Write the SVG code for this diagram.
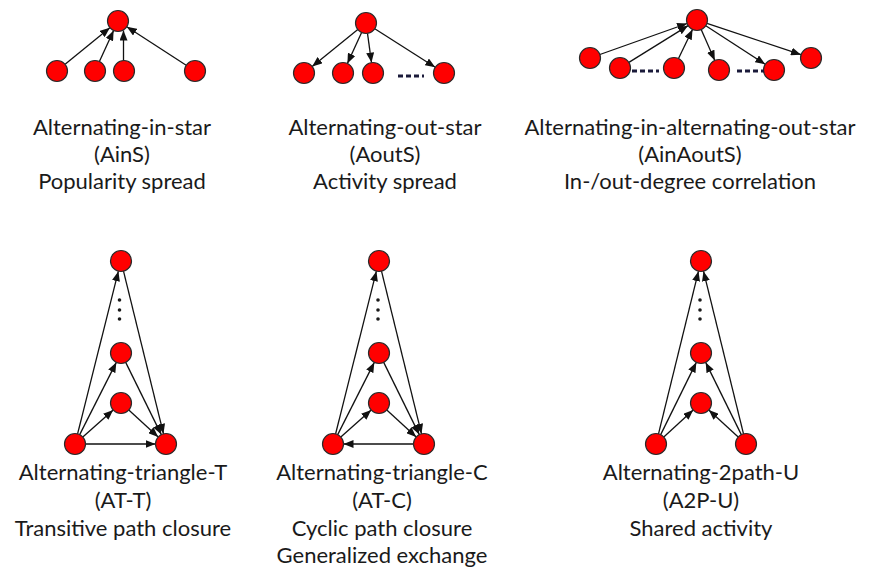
<svg xmlns="http://www.w3.org/2000/svg" width="872" height="575" viewBox="0 0 872 575">
<defs>
<marker id="arr" markerUnits="userSpaceOnUse" markerWidth="11" markerHeight="8" refX="10" refY="4" orient="auto">
<path d="M0,0 L10,4 L0,8 z" fill="#111"/>
</marker>
<style>
.n{fill:#ff0000;stroke:#2a2a2a;stroke-width:1.2}
.e{stroke:#111;stroke-width:1.3;fill:none;marker-end:url(#arr)}
.dash{stroke:#1a1a3a;stroke-width:3;stroke-dasharray:5 3;fill:none}
.dot{fill:#1a1a1a}
text{font-family:Lato,"Liberation Sans",sans-serif;font-size:22px;fill:#1a1a1a;text-anchor:middle}
</style>
</defs>
<rect width="872" height="575" fill="#fff"/>
<g id="connectors">
<line class="e" x1="65.1" y1="64.3" x2="109.9" y2="27.7"/>
<line class="e" x1="99.4" y1="61.5" x2="113.6" y2="30.5"/>
<line class="e" x1="123.5" y1="60.5" x2="123.5" y2="30.5"/>
<line class="e" x1="186.2" y1="65.3" x2="126.8" y2="26.7"/>
<line class="e" x1="357.8" y1="29.6" x2="312.2" y2="66.4"/>
<line class="e" x1="361.6" y1="32.5" x2="347.4" y2="63.5"/>
<line class="e" x1="367.5" y1="33.4" x2="371.5" y2="62.6"/>
<line class="e" x1="374.8" y1="28.7" x2="435.2" y2="67.3"/>
<line class="e" x1="599.9" y1="54.5" x2="687.1" y2="23.5"/>
<line class="e" x1="628.9" y1="62.4" x2="688.1" y2="25.6"/>
<line class="e" x1="678.5" y1="58.5" x2="692.5" y2="29.5"/>
<line class="e" x1="701.2" y1="29.6" x2="714.8" y2="60.4"/>
<line class="e" x1="705.8" y1="25.7" x2="765.2" y2="64.3"/>
<line class="e" x1="707.0" y1="23.3" x2="801.0" y2="54.7"/>
<line class="e" x1="77.6" y1="433.8" x2="118.4" y2="271.2"/>
<line class="e" x1="79.7" y1="434.6" x2="116.3" y2="362.4"/>
<line class="e" x1="82.8" y1="437.0" x2="113.2" y2="410.0"/>
<line class="e" x1="85.5" y1="444" x2="155.5" y2="444"/>
<line class="e" x1="123.5" y1="271.2" x2="163.5" y2="433.8"/>
<line class="e" x1="125.7" y1="362.4" x2="161.3" y2="434.6"/>
<line class="e" x1="128.8" y1="410.1" x2="158.2" y2="436.9"/>
<line class="e" x1="335.6" y1="433.8" x2="376.4" y2="271.2"/>
<line class="e" x1="337.7" y1="434.6" x2="374.3" y2="362.4"/>
<line class="e" x1="340.8" y1="437.0" x2="371.2" y2="410.0"/>
<line class="e" x1="413.5" y1="444" x2="343.5" y2="444"/>
<line class="e" x1="381.5" y1="271.2" x2="421.5" y2="433.8"/>
<line class="e" x1="383.7" y1="362.4" x2="419.3" y2="434.6"/>
<line class="e" x1="386.8" y1="410.1" x2="416.2" y2="436.9"/>
<line class="e" x1="658.5" y1="433.8" x2="698.5" y2="271.2"/>
<line class="e" x1="660.7" y1="434.6" x2="696.3" y2="362.4"/>
<line class="e" x1="663.8" y1="436.9" x2="693.2" y2="410.1"/>
<line class="e" x1="743.5" y1="433.8" x2="703.5" y2="271.2"/>
<line class="e" x1="741.3" y1="434.6" x2="705.7" y2="362.4"/>
<line class="e" x1="738.2" y1="436.9" x2="708.8" y2="410.1"/>
</g>
<g id="ains">
<circle class="n" cx="118" cy="21" r="10.5"/>
<circle class="n" cx="57" cy="71" r="10.5"/>
<circle class="n" cx="95" cy="71" r="10.5"/>
<circle class="n" cx="124" cy="71" r="10.5"/>
<circle class="n" cx="195" cy="71" r="10.5"/>
<text x="122" y="135">Alternating-in-star</text>
<text x="122" y="162">(AinS)</text>
<text x="122" y="189">Popularity spread</text>
</g>
<g id="aouts">
<circle class="n" cx="366" cy="23" r="10.5"/>
<circle class="n" cx="304" cy="73" r="10.5"/>
<circle class="n" cx="343" cy="73" r="10.5"/>
<circle class="n" cx="373" cy="73" r="10.5"/>
<circle class="n" cx="444" cy="73" r="10.5"/>
<line class="dash" x1="398" y1="76" x2="424" y2="76"/>
<text x="385" y="135">Alternating-out-star</text>
<text x="385" y="162">(AoutS)</text>
<text x="385" y="189">Activity spread</text>
</g>
<g id="ainaouts">
<circle class="n" cx="697" cy="20" r="10.5"/>
<circle class="n" cx="590" cy="58" r="10.5"/>
<circle class="n" cx="620" cy="68" r="10.5"/>
<circle class="n" cx="674" cy="68" r="10.5"/>
<circle class="n" cx="719" cy="70" r="10.5"/>
<circle class="n" cx="774" cy="70" r="10.5"/>
<circle class="n" cx="811" cy="58" r="10.5"/>
<line class="dash" x1="632" y1="71" x2="659" y2="71"/>
<line class="dash" x1="737" y1="71" x2="764" y2="71"/>
<text x="690" y="135">Alternating-in-alternating-out-star</text>
<text x="690" y="162">(AinAoutS)</text>
<text x="690" y="189">In-/out-degree correlation</text>
</g>
<g id="att">
<circle class="n" cx="121" cy="261" r="10.5"/>
<circle class="n" cx="121" cy="353" r="10.5"/>
<circle class="n" cx="121" cy="403" r="10.5"/>
<circle class="n" cx="75" cy="444" r="10.5"/>
<circle class="n" cx="166" cy="444" r="10.5"/>
<circle class="dot" cx="119.5" cy="300" r="1.8"/>
<circle class="dot" cx="119.5" cy="310" r="1.8"/>
<circle class="dot" cx="119.5" cy="319" r="1.8"/>
<text x="123" y="480">Alternating-triangle-T</text>
<text x="123" y="508">(AT-T)</text>
<text x="123" y="536">Transitive path closure</text>
</g>
<g id="atc">
<circle class="n" cx="379" cy="261" r="10.5"/>
<circle class="n" cx="379" cy="353" r="10.5"/>
<circle class="n" cx="379" cy="403" r="10.5"/>
<circle class="n" cx="333" cy="444" r="10.5"/>
<circle class="n" cx="424" cy="444" r="10.5"/>
<circle class="dot" cx="378" cy="300" r="1.8"/>
<circle class="dot" cx="378" cy="310" r="1.8"/>
<circle class="dot" cx="378" cy="319" r="1.8"/>
<text x="382" y="480">Alternating-triangle-C</text>
<text x="382" y="508">(AT-C)</text>
<text x="382" y="536">Cyclic path closure</text>
<text x="382" y="563">Generalized exchange</text>
</g>
<g id="a2pu">
<circle class="n" cx="701" cy="261" r="10.5"/>
<circle class="n" cx="701" cy="353" r="10.5"/>
<circle class="n" cx="701" cy="403" r="10.5"/>
<circle class="n" cx="656" cy="444" r="10.5"/>
<circle class="n" cx="746" cy="444" r="10.5"/>
<circle class="dot" cx="700" cy="300" r="1.8"/>
<circle class="dot" cx="700" cy="310" r="1.8"/>
<circle class="dot" cx="700" cy="319" r="1.8"/>
<text x="701" y="480">Alternating-2path-U</text>
<text x="701" y="508">(A2P-U)</text>
<text x="701" y="536">Shared activity</text>
</g>
</svg>
